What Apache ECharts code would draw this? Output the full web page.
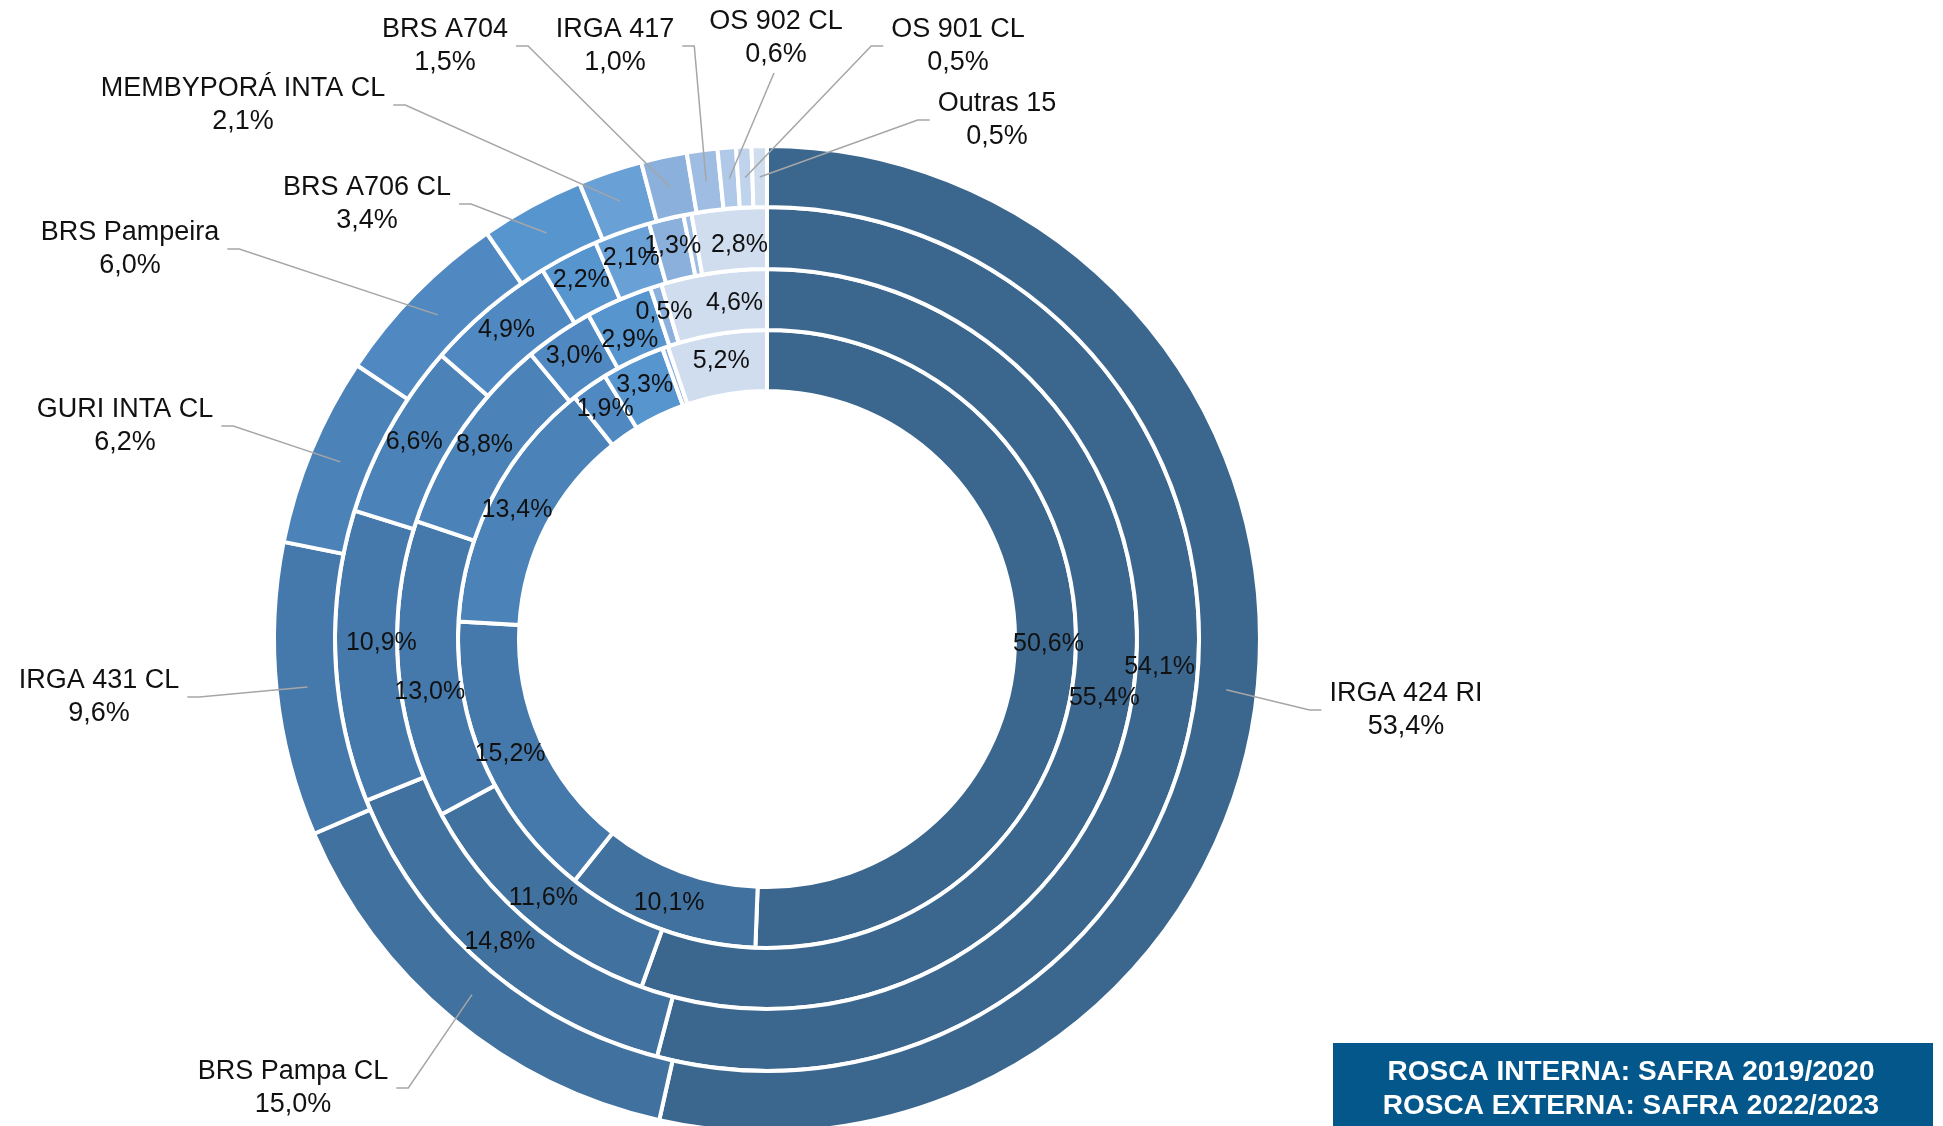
<!DOCTYPE html>
<html>
<head>
<meta charset="utf-8">
<script src="https://cdn.jsdelivr.net/npm/echarts@6/dist/echarts.min.js"></script>
<style>
  html, body { margin: 0; padding: 0; background: #fff; }
  #main { width: 1943px; height: 1126px; }
</style>
</head>
<body>
<div id="main"></div>
<script>
// cultivares, na ordem dos anéis (sentido horário a partir das 12h)
const varieties = ['IRGA 424 RI', 'BRS Pampa CL', 'IRGA 431 CL', 'GURI INTA CL', 'BRS Pampeira',
  'BRS A706 CL', 'MEMBYPORÁ INTA CL', 'BRS A704', 'IRGA 417', 'OS 902 CL', 'OS 901 CL', 'Outras 15'];
// anéis, de dentro para fora (%)
const safra2019 = [50.6, 10.1, 15.2, 13.4, 1.9, 3.3, 0, 0.3, 0, 0, 0, 5.2];
const safra2020 = [55.4, 11.6, 13.0, 8.8, 3.0, 2.9, 0, 0.5, 0, 0, 0, 4.6];
const safra2021 = [54.1, 14.8, 10.9, 6.6, 4.9, 2.2, 2.1, 1.3, 0.3, 0, 0, 2.8];
const safra2022 = [53.4, 15.0, 9.6, 6.2, 6.0, 3.4, 2.1, 1.5, 1.0, 0.6, 0.5, 0.5];

const colors = ['#3b678f', '#41719e', '#4679ab', '#4b83b9', '#5089c2', '#5795cf',
  '#69a0d6', '#8bb0dc', '#9fbde2', '#b1c9e8', '#c0d3ec', '#d0ddef'];

const CX = 767, CY = 639;
const FONT = '"Liberation Sans", Arial, sans-serif';
const OUTER_FS = 27, OUTER_LH = 33;

// where each outer label sits, relative to the centre, and on which side the leader joins
const outerLabelPlace = [
  [639, 71, 'l'], [-474, 449, 'r'], [-668, 58, 'r'], [-642, -213, 'r'], [-637, -390, 'r'],
  [-400, -435, 'r'], [-524, -534, 'r'], [-322, -593, 'r'], [-152, -593, 'r'], [9, -601, 'b'],
  [191, -593, 'l'], [230, -519, 'l']
];
// small nudges of inner labels, as placed in the original
const innerNudge = {
  '1:BRS Pampa CL': [0, 0], '1:IRGA 431 CL': [4, 24], '1:BRS A706 CL': [0, 15], '1:Outras 15': [17, 3],
  '2:IRGA 424 RI': [-8, -24], '2:IRGA 431 CL': [18, -12], '2:Outras 15': [8, 9]
};

const fmt = v => v.toFixed(1).replace('.', ',') + '%';

function ringData(values) {
  return varieties.map((n, i) => ({ name: n, value: values[i], itemStyle: { color: colors[i] } }))
    .filter(d => d.value > 0);
}

const mctx = document.createElement('canvas').getContext('2d');
mctx.font = OUTER_FS + 'px ' + FONT;
const textW = s => Math.max(...s.split('\n').map(l => mctx.measureText(l).width));

function ringSeries(values, radius, ringIdx) {
  const data = ringData(values);
  return {
    type: 'pie',
    center: [CX, CY],
    radius: radius,
    startAngle: 90,
    avoidLabelOverlap: false,
    silent: true,
    z: 2,
    itemStyle: { borderColor: '#fff', borderWidth: 4 },
    label: {
      show: true,
      position: 'inside',
      color: '#111',
      fontSize: 25,
      fontFamily: FONT,
      formatter: p => (p.value >= 0.4 ? fmt(p.value) : '')
    },
    labelLine: { show: false },
    labelLayout: function (params) {
      const n = innerNudge[ringIdx + ':' + data[params.dataIndex].name] || [0, 0];
      return { dx: n[0], dy: n[1], hideOverlap: false };
    },
    emphasis: { disabled: true },
    data: data
  };
}

function leaderPoints(i) {
  const total = safra2022.reduce((a, b) => a + b, 0);
  const before = safra2022.slice(0, i).reduce((a, b) => a + b, 0);
  const ang = (before + safra2022[i] / 2) / total * Math.PI * 2;
  const rMid = 462;
  const px = CX + rMid * Math.sin(ang), py = CY - rMid * Math.cos(ang);
  const pl = outerLabelPlace[i];
  const x = CX + pl[0], y = CY + pl[1];
  const w = textW(varieties[i] + '\n' + fmt(safra2022[i]));
  const h = OUTER_LH * 2;
  if (pl[2] === 'r') return [[px, py], [x + w / 2 + 20, y], [x + w / 2 + 8, y]];
  if (pl[2] === 'l') return [[px, py], [x - w / 2 - 20, y], [x - w / 2 - 8, y]];
  return [[px, py], [x - 2, y + h / 2 + 2]];
}

const outer = ringSeries(safra2022, [432, 493], 3);
outer.label = {
  show: true,
  position: 'outside',
  color: '#111',
  fontSize: OUTER_FS,
  lineHeight: OUTER_LH,
  fontFamily: FONT,
  overflow: 'none',
  formatter: p => p.name + '\n' + fmt(p.value)
};
outer.labelLine = { show: false };
outer.labelLayout = function (params) {
  const pl = outerLabelPlace[params.dataIndex];
  return { x: CX + pl[0], y: CY + pl[1], align: 'center', verticalAlign: 'middle', width: 700, hideOverlap: false };
};

const leaders = varieties.map((n, i) => ({
  type: 'polyline',
  z: 50,
  silent: true,
  shape: { points: leaderPoints(i) },
  style: { stroke: '#a6a6a6', lineWidth: 1.5, fill: null }
}));

const chart = echarts.init(document.getElementById('main'));
chart.setOption({
  animation: false,
  series: [
    ringSeries(safra2019, [248, 309], 0),
    ringSeries(safra2020, [309, 370], 1),
    ringSeries(safra2021, [370, 432], 2),
    outer
  ],
  graphic: leaders.concat([
    { type: 'rect', z: 50, shape: { x: 1333, y: 1043, width: 600, height: 90 }, style: { fill: '#04578b' } },
    {
      type: 'text', z: 51, x: 1631, y: 1089,
      style: {
        text: 'ROSCA INTERNA: SAFRA 2019/2020\nROSCA EXTERNA: SAFRA 2022/2023',
        fill: '#fff', fontSize: 28, fontWeight: 'bold', fontFamily: FONT,
        lineHeight: 34, align: 'center', verticalAlign: 'middle'
      }
    }
  ])
});
</script>
</body>
</html>
